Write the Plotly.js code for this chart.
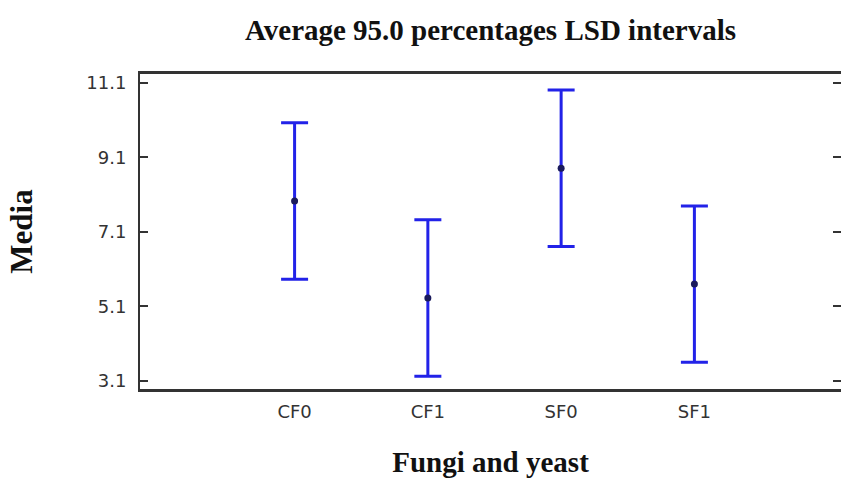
<!DOCTYPE html>
<html>
<head>
<meta charset="utf-8">
<script src="https://cdn.plot.ly/plotly-3.0.1.min.js"></script>
<style>html,body{margin:0;padding:0;background:#fff;}#chart{width:841px;height:482px;}</style>
</head>
<body>
<div id="chart"></div>
<script>
const categories = ['CF0', 'CF1', 'SF0', 'SF1'];
const means = [7.93, 5.33, 8.81, 5.70];
const halfLSD = [2.1, 2.1, 2.1, 2.1];
const yTickVals = [3.1, 5.1, 7.1, 9.1, 11.1];
const yTickText = ['3.1', '5.1', '7.1', '9.1', '11.1'];

const trace = {
  type: 'scatter',
  mode: 'markers',
  x: categories,
  y: means,
  marker: {color: '#1a1a5c', size: 7},
  error_y: {type: 'data', array: halfLSD, visible: true, color: '#2222e8', thickness: 3, width: 13.5},
  hoverinfo: 'x+y'
};

const serif = 'Liberation Serif, Times New Roman, serif';
const layout = {
  width: 841, height: 482,
  margin: {l: 140, r: 0, t: 74, b: 93},
  paper_bgcolor: '#fff', plot_bgcolor: '#fff',
  showlegend: false,
  title: {
    text: '<b>Average 95.0 percentages LSD intervals</b>',
    font: {family: serif, size: 29, color: '#111'},
    xref: 'paper', x: 0.5, xanchor: 'center',
    yref: 'container', y: 1 - 30/482, yanchor: 'middle'
  },
  xaxis: {
    type: 'category',
    range: [-1.16, 4.1],
    showline: true, linecolor: '#333', linewidth: 3, mirror: true,
    ticks: '', showgrid: false, zeroline: false,
    tickfont: {family: 'DejaVu Sans, sans-serif', size: 18, color: '#333'},
    ticklabelstandoff: 4,
    title: {text: '<b>Fungi and yeast</b>', font: {family: serif, size: 29, color: '#111'}, standoff: 32}
  },
  yaxis: {
    range: [2.885, 11.34],
    tickvals: yTickVals, ticktext: yTickText,
    showline: true, linecolor: '#333', linewidth: 2, mirror: 'ticks',
    ticks: 'inside', ticklen: 8, tickwidth: 2, tickcolor: '#333',
    showgrid: false, zeroline: false,
    tickfont: {family: 'DejaVu Sans, sans-serif', size: 18, color: '#333'},
    ticklabelstandoff: 8,
    title: {text: '<b>Media</b>', font: {family: serif, size: 31, color: '#111'}, standoff: 44}
  }
};

Plotly.newPlot('chart', [trace], layout, {displayModeBar: false, staticPlot: true});
</script>
</body>
</html>
